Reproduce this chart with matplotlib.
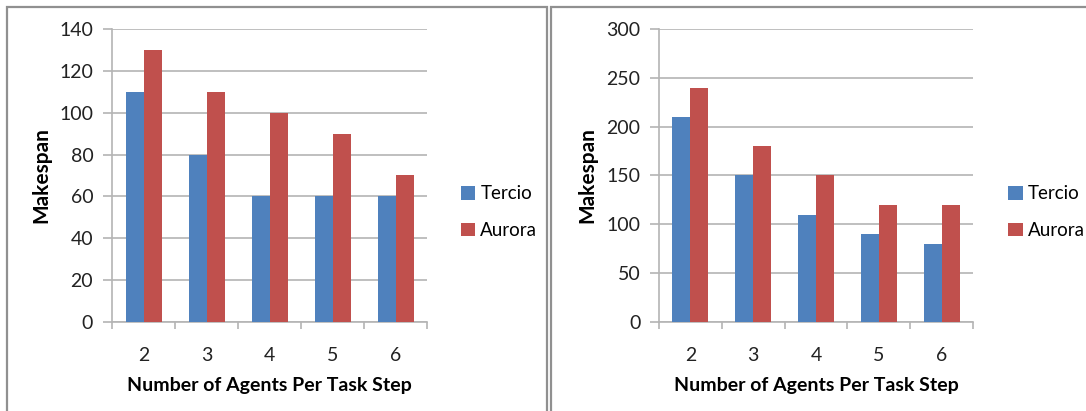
import numpy as np
import matplotlib
matplotlib.use("Agg")
from matplotlib import pyplot as plt
from matplotlib.patches import Rectangle

plt.rcParams['font.family'] = ['Lato', 'DejaVu Sans']

agents = [2, 3, 4, 5, 6]
tercio_left = [110, 80, 60, 60, 60]
aurora_left = [130, 110, 100, 90, 70]
tercio_right = [210, 150, 110, 90, 80]
aurora_right = [240, 180, 150, 120, 120]

blue = "#4F81BD"
red = "#C0504D"
grid_c = "#b4b4b4"

fig = plt.figure(figsize=(10.86, 4.11), dpi=100)

# chart frames (excel style)
fig.patches.append(Rectangle((7/1086, -0.05), 540/1086, 1.05 - 7/411, transform=fig.transFigure,
                             fill=False, edgecolor="#909090", linewidth=1.6))
fig.patches.append(Rectangle((551/1086, -0.05), 0.6, 1.05 - 7/411, transform=fig.transFigure,
                             fill=False, edgecolor="#909090", linewidth=1.6))


def draw(pos, tercio, aurora, ymax, step, leg_x):
    ax = fig.add_axes(pos)
    x = np.arange(len(agents))
    w = 1 / 3.5
    ax.bar(x - w/2, tercio, w, color=blue, label="Tercio", zorder=3)
    ax.bar(x + w/2, aurora, w, color=red, label="Aurora", zorder=3)
    ax.set_xlim(-0.5, len(agents) - 0.5)
    ax.set_ylim(0, ymax)
    ax.set_yticks(np.arange(0, ymax + 1, step))
    ax.set_xticks(x)
    ax.set_xticklabels([str(a) for a in agents])
    ax.set_xticks(np.arange(-0.5, len(agents)), minor=True)
    ax.yaxis.grid(True, color=grid_c, linewidth=1.2, zorder=0)
    for s in ["top", "right"]:
        ax.spines[s].set_visible(False)
    for s in ["left", "bottom"]:
        ax.spines[s].set_color(grid_c)
        ax.spines[s].set_linewidth(1.2)
    ax.tick_params(axis="y", length=6.5, width=1.2, color=grid_c, pad=7, labelsize=14,
                   labelcolor="#222222")
    ax.tick_params(axis="x", which="major", length=0, pad=18, labelsize=14, labelcolor="#222222")
    ax.tick_params(axis="x", which="minor", length=5, width=1.2, color=grid_c)
    ax.set_ylabel("Makespan", fontsize=15, fontweight="bold", labelpad=6)
    ax.set_xlabel("Number of Agents Per Task Step", fontsize=14, fontweight="bold", labelpad=9)
    ax.legend(loc="center left", bbox_to_anchor=(leg_x, 0.375), frameon=False, fontsize=13.5,
              handlelength=0.75, handleheight=0.75, handletextpad=0.3, labelspacing=1.05,
              borderaxespad=0)
    return ax


draw([112/1086, 89/411, 315/1086, 293/411], tercio_left, aurora_left, 140, 20, 1.083)
draw([659/1086, 89/411, 314/1086, 293/411], tercio_right, aurora_right, 300, 50, 1.089)

fig.savefig("out.png", dpi=100)
